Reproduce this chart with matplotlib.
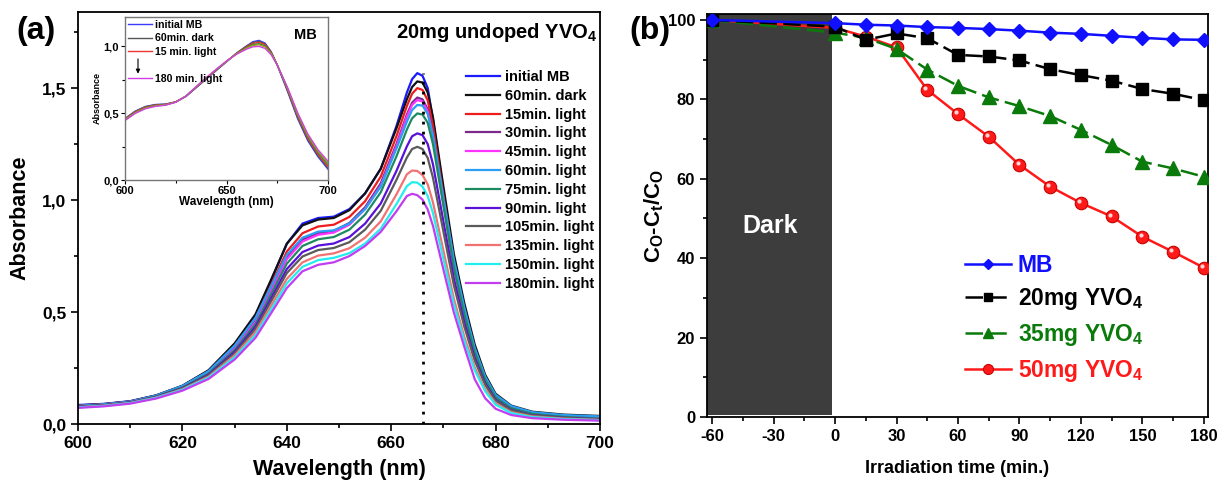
"""
YVO4 photocatalysis: (a) MB absorbance spectra, (b) degradation vs time
"""
import numpy as np
import matplotlib
matplotlib.use("Agg")
import matplotlib.pyplot as plt
from matplotlib.ticker import MultipleLocator, FuncFormatter
from matplotlib.transforms import offset_copy

plt.rcParams["font.family"] = "Liberation Sans"
plt.rcParams["font.weight"] = "bold"
plt.rcParams["axes.labelweight"] = "bold"
plt.rcParams["axes.unicode_minus"] = False
plt.rcParams["mathtext.fontset"] = "custom"
plt.rcParams["mathtext.rm"] = "Liberation Sans:bold"
plt.rcParams["mathtext.it"] = "Liberation Sans:bold"
plt.rcParams["mathtext.bf"] = "Liberation Sans:bold"

# ---------------------------------------------------------
# data: (a) spectra, 20mg undoped YVO4
# ---------------------------------------------------------
wl = [600, 605, 610, 615, 620, 625, 630, 634, 637, 640, 643, 646, 649, 652, 655,
      658, 661, 663, 664, 665, 666, 667, 668, 670, 672, 674, 676, 678, 680, 683,
      687, 693, 700]

abs_initial = [0.085, 0.090, 0.102, 0.128, 0.170, 0.238, 0.355, 0.485, 0.640, 0.805, 0.895, 0.920, 0.926, 0.960, 1.030,
               1.140, 1.330, 1.480, 1.540, 1.567, 1.555, 1.500, 1.360, 1.040, 0.740, 0.520, 0.340, 0.210, 0.125, 0.075,
               0.050, 0.038, 0.032]
abs_dark60 = [0.083, 0.089, 0.101, 0.128, 0.171, 0.240, 0.360, 0.490, 0.645, 0.805, 0.887, 0.913, 0.920, 0.955, 1.030,
              1.140, 1.320, 1.450, 1.505, 1.530, 1.525, 1.480, 1.370, 1.060, 0.760, 0.540, 0.355, 0.220, 0.135, 0.082,
              0.055, 0.042, 0.036]
abs_15 = [0.082, 0.088, 0.100, 0.126, 0.168, 0.234, 0.348, 0.472, 0.620, 0.770, 0.852, 0.882, 0.890, 0.925, 0.995,
          1.105, 1.285, 1.420, 1.475, 1.500, 1.492, 1.445, 1.330, 1.020, 0.725, 0.510, 0.330, 0.205, 0.122, 0.074,
          0.050, 0.037, 0.031]
abs_30 = [0.080, 0.087, 0.099, 0.125, 0.166, 0.230, 0.340, 0.460, 0.600, 0.745, 0.823, 0.852, 0.862, 0.898, 0.968,
          1.075, 1.250, 1.382, 1.435, 1.458, 1.450, 1.405, 1.295, 0.995, 0.705, 0.495, 0.320, 0.198, 0.118, 0.070,
          0.046, 0.034, 0.028]
abs_45 = [0.079, 0.086, 0.098, 0.124, 0.165, 0.228, 0.336, 0.455, 0.592, 0.736, 0.815, 0.845, 0.855, 0.890, 0.960,
          1.065, 1.240, 1.372, 1.425, 1.447, 1.440, 1.395, 1.285, 0.985, 0.698, 0.490, 0.316, 0.195, 0.116, 0.068,
          0.044, 0.032, 0.026]
abs_60 = [0.081, 0.088, 0.100, 0.127, 0.170, 0.236, 0.350, 0.474, 0.615, 0.755, 0.832, 0.859, 0.865, 0.895, 0.960,
          1.060, 1.230, 1.350, 1.402, 1.425, 1.422, 1.385, 1.290, 1.010, 0.735, 0.520, 0.340, 0.212, 0.130, 0.080,
          0.053, 0.040, 0.034]
abs_75 = [0.078, 0.085, 0.097, 0.123, 0.163, 0.225, 0.330, 0.446, 0.580, 0.716, 0.795, 0.825, 0.835, 0.868, 0.935,
          1.035, 1.195, 1.315, 1.365, 1.387, 1.382, 1.345, 1.250, 0.975, 0.700, 0.492, 0.320, 0.198, 0.118, 0.070,
          0.045, 0.032, 0.024]
abs_90 = [0.077, 0.084, 0.096, 0.121, 0.160, 0.220, 0.322, 0.434, 0.562, 0.692, 0.768, 0.797, 0.806, 0.835, 0.895,
          0.985, 1.130, 1.240, 1.285, 1.298, 1.290, 1.250, 1.160, 0.905, 0.650, 0.455, 0.295, 0.182, 0.108, 0.063,
          0.040, 0.028, 0.021]
abs_105 = [0.076, 0.083, 0.095, 0.120, 0.158, 0.216, 0.315, 0.424, 0.548, 0.674, 0.748, 0.777, 0.786, 0.812, 0.868,
           0.952, 1.090, 1.190, 1.228, 1.238, 1.228, 1.188, 1.100, 0.860, 0.620, 0.435, 0.283, 0.175, 0.104, 0.061,
           0.039, 0.027, 0.020]
abs_135 = [0.075, 0.082, 0.094, 0.118, 0.155, 0.211, 0.306, 0.410, 0.528, 0.648, 0.722, 0.752, 0.762, 0.785, 0.832,
           0.905, 1.025, 1.115, 1.132, 1.130, 1.112, 1.070, 0.990, 0.775, 0.560, 0.390, 0.253, 0.155, 0.092, 0.053,
           0.034, 0.024, 0.018]
abs_150 = [0.074, 0.081, 0.093, 0.117, 0.153, 0.207, 0.298, 0.398, 0.512, 0.628, 0.702, 0.732, 0.742, 0.763, 0.806,
           0.872, 0.982, 1.062, 1.080, 1.078, 1.060, 1.018, 0.942, 0.738, 0.535, 0.372, 0.240, 0.146, 0.086, 0.049,
           0.031, 0.022, 0.017]
abs_180 = [0.072, 0.079, 0.091, 0.114, 0.149, 0.201, 0.288, 0.385, 0.495, 0.607, 0.682, 0.711, 0.722, 0.750, 0.795,
           0.858, 0.950, 1.018, 1.028, 1.022, 1.002, 0.958, 0.885, 0.690, 0.498, 0.345, 0.200, 0.115, 0.068, 0.040,
           0.026, 0.019, 0.015]

spectra = [abs_initial, abs_dark60, abs_15, abs_30, abs_45, abs_60, abs_75,
           abs_90, abs_105, abs_135, abs_150, abs_180]
spectra_labels = ["initial MB", "60min. dark", "15min. light", "30min. light", "45min. light",
                  "60min. light", "75min. light", "90min. light", "105min. light",
                  "135min. light", "150min. light", "180min. light"]
peak_wl = 666

# inset: MB alone under light
wl_mb = [600, 605, 610, 615, 620, 625, 630, 635, 640, 645, 650, 655, 660, 663, 666, 669,
         672, 675, 680, 685, 690, 695, 700]
mb_initial = [0.460, 0.515, 0.550, 0.565, 0.568, 0.585, 0.625, 0.690, 0.755, 0.820, 0.885, 0.950, 1.005, 1.035,
              1.045, 1.025, 0.960, 0.860, 0.665, 0.460, 0.295, 0.175, 0.080]
mb_dark60 = [0.458, 0.513, 0.548, 0.563, 0.567, 0.585, 0.626, 0.692, 0.757, 0.822, 0.886, 0.950, 1.003, 1.030,
             1.038, 1.020, 0.958, 0.862, 0.672, 0.470, 0.305, 0.185, 0.090]
mb_15 = [0.455, 0.510, 0.545, 0.560, 0.565, 0.584, 0.627, 0.694, 0.760, 0.824, 0.887, 0.948, 0.998, 1.022,
         1.030, 1.013, 0.955, 0.862, 0.678, 0.478, 0.315, 0.195, 0.100]
mb_90 = [0.452, 0.506, 0.541, 0.557, 0.563, 0.583, 0.627, 0.695, 0.762, 0.826, 0.888, 0.946, 0.992, 1.014,
         1.020, 1.004, 0.950, 0.862, 0.684, 0.487, 0.326, 0.207, 0.115]
mb_135 = [0.450, 0.503, 0.538, 0.555, 0.562, 0.583, 0.628, 0.697, 0.764, 0.828, 0.889, 0.944, 0.987, 1.007,
          1.012, 0.996, 0.945, 0.862, 0.690, 0.496, 0.336, 0.218, 0.128]
mb_180 = [0.445, 0.498, 0.533, 0.551, 0.560, 0.582, 0.628, 0.698, 0.766, 0.830, 0.890, 0.942, 0.980, 0.997,
          1.000, 0.985, 0.938, 0.860, 0.695, 0.505, 0.346, 0.228, 0.140]

# ---------------------------------------------------------
# data: (b) degradation
# ---------------------------------------------------------
time_min = [-60, 0, 15, 30, 45, 60, 75, 90, 105, 120, 135, 150, 165, 180]
deg_mb = [100, 99.2, 98.8, 98.6, 98.2, 98.0, 97.7, 97.3, 96.8, 96.5, 96.0, 95.5, 95.1, 95.0]
deg_20mg = [100, 98.3, 95.0, 96.6, 95.4, 91.2, 90.8, 89.8, 87.6, 86.1, 84.7, 82.6, 81.4, 79.8]
deg_35mg = [100, 96.8, 95.5, 92.7, 87.5, 83.4, 80.5, 78.3, 75.8, 72.3, 68.5, 64.3, 62.6, 60.5]
deg_50mg = [100, 98.0, 95.8, 93.1, 82.4, 76.3, 70.6, 63.5, 58.0, 53.9, 50.5, 45.4, 41.6, 37.6]

# ---------------------------------------------------------
# styles
# ---------------------------------------------------------
spec_colors = ["#1a1aff", "#111111", "#ee1c1c", "#7b2a8c", "#ff33ff", "#2a9df4",
               "#1e8a60", "#5a10d8", "#5a5a5a", "#f27272", "#22eef0", "#c23cf0"]
mb_colors = ["#3b3bff", "#555555", "#ee3333", "#2e8b2e", "#a0a020", "#d040e0"]

comma = FuncFormatter(lambda v, p: f"{v:.1f}".replace(".", ","))

W, H = 1218, 486
fig = plt.figure(figsize=(W / 100, H / 100), dpi=100)


def frac(left, top, right, bottom):
    return [left / W, 1 - bottom / H, (right - left) / W, (bottom - top) / H]


def style_ticks(ax, size, major=5, minor=3):
    ax.tick_params(which="both", direction="out", top=False, right=False, width=1.2)
    ax.tick_params(which="major", length=major, labelsize=size)
    ax.tick_params(which="minor", length=minor)
    for s in ax.spines.values():
        s.set_linewidth(1.3)


# ---------------------------------------------------------
# (a) spectra
# ---------------------------------------------------------
ax = fig.add_axes(frac(78, 12, 600, 424))
for vals, lab, c in zip(spectra, spectra_labels, spec_colors):
    ax.plot(wl, vals, color=c, lw=1.6, label=lab, solid_joinstyle="round")
ax.plot([peak_wl, peak_wl], [0, max(abs_initial)], color="k", lw=2.0,
        ls=(0, (1, 2.6)), zorder=5)
ax.set_xlim(600, 700)
ax.set_ylim(0, 1.84)
ax.xaxis.set_major_locator(MultipleLocator(20))
ax.xaxis.set_minor_locator(MultipleLocator(10))
ax.yaxis.set_major_locator(MultipleLocator(0.5))
ax.yaxis.set_minor_locator(MultipleLocator(0.25))
ax.yaxis.set_major_formatter(comma)
style_ticks(ax, 12.5)
ax.set_xlabel("Wavelength (nm)", fontsize=15.5, labelpad=6)
ax.set_ylabel("Absorbance", fontsize=15.5, labelpad=8)
ax.legend(loc="upper left", bbox_to_anchor=(466 / W, 1 - 70 / H),
          bbox_transform=fig.transFigure, frameon=False, fontsize=10.5,
          handlelength=2.3, handletextpad=0.35, labelspacing=0.33,
          borderpad=0, borderaxespad=0)
fig.text(597 / W, 1 - 32 / H, "20mg undoped YVO$_4$", ha="right", va="center",
         fontsize=14.5, fontweight="bold")
fig.text(36 / W, 1 - 31 / H, "(a)", ha="center", va="center", fontsize=23,
         fontweight="bold")

# inset
ins = fig.add_axes(frac(125, 17, 328, 180))
mb_curves = [mb_initial, mb_dark60, mb_15, mb_90, mb_135, mb_180]
mb_labels = ["initial MB", "60min. dark", "15 min. light", None, None, "180 min. light"]
handles = []
for vals, lab, c in zip(mb_curves, mb_labels, mb_colors):
    ln, = ins.plot(wl_mb, vals, color=c, lw=1.0)
    if lab:
        handles.append((ln, lab))
ins.set_xlim(600, 700)
ins.set_ylim(0, 1.22)
ins.xaxis.set_major_locator(MultipleLocator(50))
ins.xaxis.set_minor_locator(MultipleLocator(25))
ins.yaxis.set_major_locator(MultipleLocator(0.5))
ins.yaxis.set_minor_locator(MultipleLocator(0.25))
ins.yaxis.set_major_formatter(comma)
ins.tick_params(which="both", direction="out", top=False, right=False, width=0.8,
                labelsize=8, pad=1.5)
ins.tick_params(which="major", length=3)
ins.tick_params(which="minor", length=2)
for s in ins.spines.values():
    s.set_linewidth(1.0)
    s.set_color("#777777")
ins.set_xlabel("Wavelength (nm)", fontsize=8.5, labelpad=0)
ins.set_ylabel("Absorbance", fontsize=6.5, labelpad=1)
blank, = ins.plot([], [], color="none")
leg_h = [h[0] for h in handles[:3]] + [blank, handles[3][0]]
leg_l = [h[1] for h in handles[:3]] + [" ", handles[3][1]]
ins.legend(leg_h, leg_l, loc="upper left", frameon=False, fontsize=7.6,
           handlelength=2.3, handletextpad=0.3, labelspacing=0.34,
           borderpad=0.15, borderaxespad=0.1)
ins.annotate("", xy=(0.064, 0.635), xytext=(0.064, 0.76), xycoords="axes fraction",
             arrowprops=dict(arrowstyle="-|>", color="k", lw=0.8, mutation_scale=6))
ins.text(0.89, 0.89, "MB", transform=ins.transAxes, ha="center", va="center",
         fontsize=10.5, fontweight="bold")

# ---------------------------------------------------------
# (b) degradation
# ---------------------------------------------------------
bx = fig.add_axes(frac(707, 14, 1208, 417))
bx.axvspan(-62.5, -1.5, ymin=0.004, ymax=1, color="#3d3d3d", lw=0, zorder=1)
bx.text(-31.5, 48, "Dark", color="white", fontsize=18, fontweight="bold",
        ha="center", va="center", zorder=2)

l50, = bx.plot(time_min, deg_50mg, "-o", color="#ff1a1a", mec="#c80000", mew=0.8,
               ms=9, lw=1.8, label="50mg YVO$_4$", zorder=3)
bx.plot(time_min, deg_50mg, "o", color="#ffd6d6", mec="none", ms=3, zorder=3.5,
        transform=offset_copy(bx.transData, fig=fig, x=-1.3, y=1.3, units="points"))
l35, = bx.plot(time_min, deg_35mg, "^", ls=(0, (7, 2.5)), color="#0a7a0a", ms=9.5,
               lw=1.8, label="35mg YVO$_4$", zorder=4)
l20, = bx.plot(time_min, deg_20mg, "s", ls=(0, (7, 2.5)), color="#000000", ms=8,
               lw=1.8, label="20mg YVO$_4$", zorder=5)
lmb, = bx.plot(time_min, deg_mb, "-D", color="#1010ff", ms=7, lw=1.8, label="MB",
               zorder=6)
bx.set_xlim(-62.5, 182)
bx.set_ylim(0, 101.5)
bx.xaxis.set_major_locator(MultipleLocator(30))
bx.xaxis.set_minor_locator(MultipleLocator(15))
bx.yaxis.set_major_locator(MultipleLocator(20))
bx.yaxis.set_minor_locator(MultipleLocator(10))
style_ticks(bx, 12)
bx.set_xlabel("Irradiation time (min.)", fontsize=13, labelpad=12)
bx.set_ylabel(r"C$_\mathrm{O}$-C$_\mathrm{t}$/C$_\mathrm{O}$", fontsize=16, labelpad=1)
bx.legend([lmb, l20, l35, l50], ["MB", "20mg YVO$_4$", "35mg YVO$_4$", "50mg YVO$_4$"],
          loc="upper left", bbox_to_anchor=(0.515, 0.405), frameon=False,
          fontsize=16.5, labelcolor="linecolor", handlelength=2.0,
          handletextpad=0.3, labelspacing=0.42, markerscale=0.8,
          borderpad=0, borderaxespad=0)
fig.text(650 / W, 1 - 31 / H, "(b)", ha="center", va="center", fontsize=23,
         fontweight="bold")

fig.savefig("out.png", dpi=100)
